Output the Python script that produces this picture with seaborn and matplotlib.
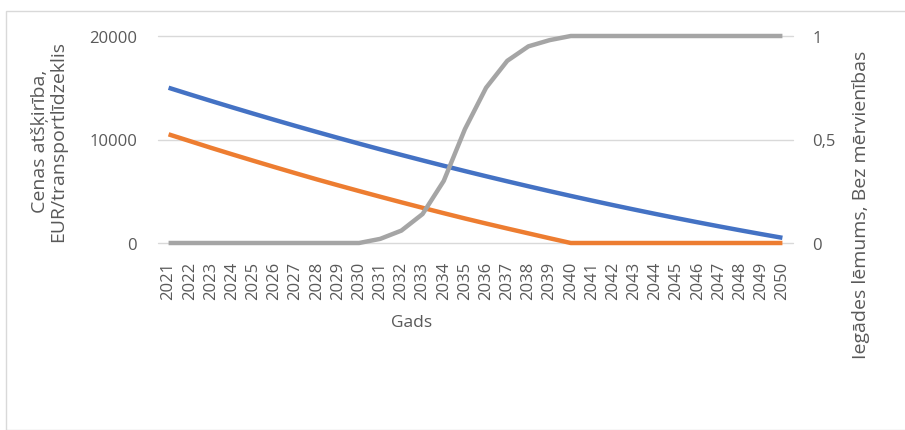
import matplotlib
matplotlib.use("Agg")
import matplotlib.pyplot as plt
from matplotlib.patches import Rectangle
import numpy as np
import pandas as pd
import seaborn as sns

# Years on the category axis
years = [str(y) for y in range(2021, 2051)]

# Price difference, EUR per vehicle (left axis)
price_diff_a = [15000, 14360, 13730, 13110, 12500, 11900, 11310, 10730, 10160, 9600,
                9050, 8510, 7980, 7460, 6950, 6450, 5960, 5480, 5010, 4550,
                4100, 3660, 3230, 2810, 2400, 2000, 1610, 1230, 860, 500]
price_diff_b = [10500, 9850, 9200, 8570, 7950, 7340, 6740, 6150, 5580, 5020,
                4470, 3930, 3400, 2880, 2370, 1880, 1400, 930, 460, 0,
                0, 0, 0, 0, 0, 0, 0, 0, 0, 0]

# Purchase decision share, dimensionless (right axis)
decision = [0, 0, 0, 0, 0, 0, 0, 0, 0, 0,
            0.02, 0.06, 0.14, 0.30, 0.55, 0.75, 0.88, 0.95, 0.98, 1.0,
            1, 1, 1, 1, 1, 1, 1, 1, 1, 1]

left_ticks = [0, 10000, 20000]
left_ticklabels = ["0", "10000", "20000"]
right_ticks = [0, 0.5, 1]
right_ticklabels = ["0", "0,5", "1"]

BLUE = "#4472C4"
ORANGE = "#ED7D31"
GRAY = "#A5A5A5"
TEXT = "#595959"
GRID = "#D9D9D9"

sns.set_style("white")
plt.rcParams["font.family"] = ["Open Sans", "DejaVu Sans"]

W, H = 905, 431
fig = plt.figure(figsize=(W / 100, H / 100), dpi=100)

# Chart area frame
fig.patches.append(Rectangle((5.5 / W, 0), 1.0, 1 - 11.5 / H, transform=fig.transFigure,
                             fill=False, edgecolor=GRID, linewidth=1.0))

x0, x1, y0, y1 = 158, 793, 37, 244
ax = fig.add_axes([x0 / W, 1 - y1 / H, (x1 - x0) / W, (y1 - y0) / H])
ax2 = ax.twinx()

df = pd.DataFrame({
    "pos": np.arange(len(years)),
    "a": price_diff_a,
    "b": price_diff_b,
    "d": decision,
})

line_kw = dict(linewidth=3.2, solid_capstyle="butt", solid_joinstyle="round", clip_on=False)
sns.lineplot(data=df, x="pos", y="a", ax=ax, color=BLUE, zorder=3, **line_kw)
sns.lineplot(data=df, x="pos", y="b", ax=ax, color=ORANGE, zorder=3, **line_kw)
sns.lineplot(data=df, x="pos", y="d", ax=ax2, color=GRAY, zorder=3, **line_kw)

ax.set_xlim(-0.5, len(years) - 0.5)
ax.set_ylim(0, 20000)
ax2.set_ylim(0, 1)

for y in left_ticks:
    ax.axhline(y, color=GRID, linewidth=1.0, zorder=0, clip_on=False)

ax.set_yticks(left_ticks)
ax.set_yticklabels(left_ticklabels)
ax2.set_yticks(right_ticks)
ax2.set_yticklabels(right_ticklabels)
ax.set_xticks(df["pos"])
ax.set_xticklabels(years, rotation=90)

ax.tick_params(axis="y", length=0, pad=15, labelsize=12, labelcolor=TEXT)
ax2.tick_params(axis="y", length=0, pad=14, labelsize=12, labelcolor=TEXT)
ax.tick_params(axis="x", length=0, pad=13, labelsize=12, labelcolor=TEXT)

for a in (ax, ax2):
    for s in a.spines.values():
        s.set_visible(False)
    a.set_xlabel("")
    a.set_ylabel("")

fig.text(412 / W, 1 - 323 / H, "Gads", ha="center", va="center", fontsize=12.5, color=TEXT)
fig.text(49 / W, 1 - 141 / H, "Cenas atšķirība,\nEUR/transportlīdzeklis", rotation=90,
         ha="center", va="center", fontsize=14, color=TEXT, linespacing=1.05,
         multialignment="center")
fig.text(861 / W, 1 - 205 / H, "Iegādes lēmums, Bez mērvienības", rotation=90,
         ha="center", va="center", fontsize=14, color=TEXT)

fig.savefig("out.png", dpi=100)
